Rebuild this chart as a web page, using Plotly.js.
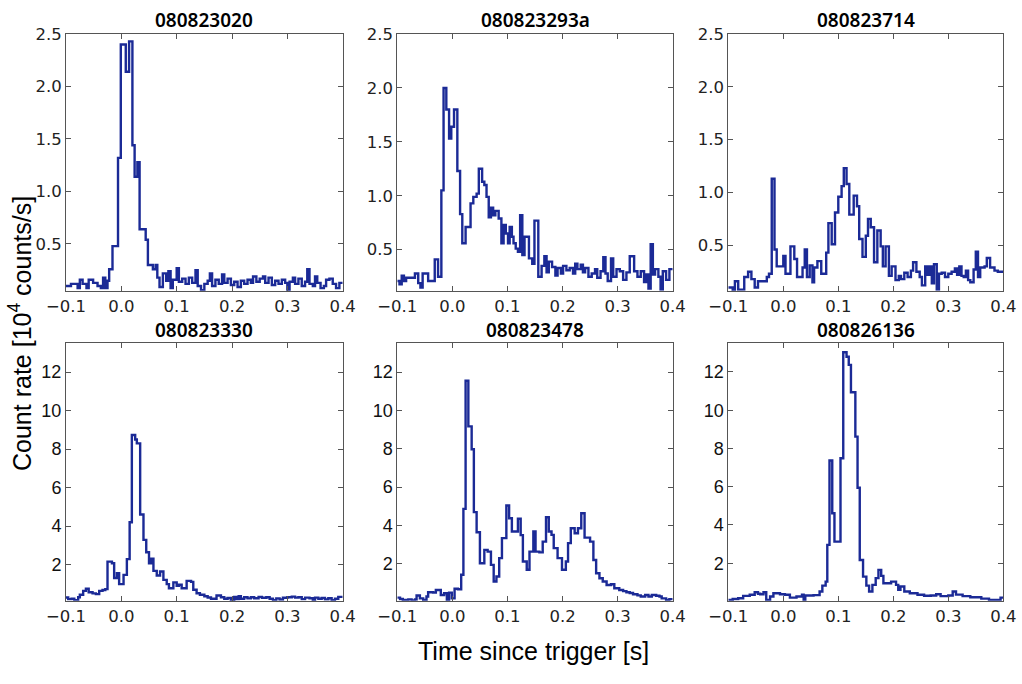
<!DOCTYPE html>
<html>
<head>
<meta charset="utf-8">
<script src="https://cdn.plot.ly/plotly-3.0.1.min.js"></script>
<style>html,body{margin:0;padding:0;background:#fff}#chart{width:1022px;height:684px}</style>
</head>
<body>
<div id="chart"></div>
<script>
// Burst names (panel titles)
const titles = ["080823020","080823293a","080823714","080823330","080823478","080826136"];

// Step start times [s] and count rates [10^4 counts/s]
const t1 = [-0.100,-0.091,-0.079,-0.075,-0.070,-0.063,-0.059,-0.051,-0.043,-0.037,-0.033,-0.029,-0.025,-0.022,-0.016,-0.006,-0.001,0.008,0.014,0.020,0.024,0.029,0.033,0.044,0.048,0.057,0.062,0.065,0.069,0.075,0.081,0.085,0.089,0.093,0.097,0.100,0.104,0.110,0.116,0.122,0.128,0.134,0.138,0.144,0.150,0.156,0.160,0.164,0.170,0.176,0.182,0.186,0.192,0.198,0.204,0.210,0.216,0.222,0.228,0.234,0.238,0.244,0.250,0.256,0.260,0.266,0.272,0.278,0.284,0.290,0.296,0.300,0.304,0.310,0.314,0.320,0.326,0.332,0.336,0.340,0.346,0.350,0.354,0.360,0.366,0.370,0.376,0.382,0.388,0.394,0.400];
const v1 = [0.10,0.12,0.08,0.16,0.12,0.08,0.16,0.13,0.10,0.08,0.18,0.08,0.15,0.26,0.48,1.32,2.40,2.14,2.43,1.44,1.14,1.28,0.64,0.54,0.30,0.26,0.30,0.18,0.09,0.22,0.15,0.24,0.08,0.16,0.16,0.27,0.14,0.17,0.12,0.18,0.13,0.25,0.10,0.06,0.12,0.15,0.22,0.10,0.16,0.12,0.21,0.13,0.17,0.11,0.14,0.09,0.15,0.12,0.16,0.13,0.19,0.14,0.17,0.19,0.13,0.18,0.11,0.15,0.12,0.16,0.13,0.06,0.14,0.18,0.12,0.17,0.10,0.14,0.26,0.12,0.10,0.19,0.13,0.08,0.10,0.16,0.17,0.12,0.08,0.13,0.13];

const t2 = [-0.100,-0.096,-0.092,-0.088,-0.084,-0.076,-0.068,-0.062,-0.058,-0.054,-0.044,-0.036,-0.032,-0.026,-0.020,-0.016,-0.011,-0.006,-0.002,0.003,0.009,0.014,0.018,0.024,0.033,0.038,0.044,0.048,0.054,0.058,0.062,0.066,0.070,0.074,0.078,0.084,0.089,0.093,0.097,0.101,0.104,0.108,0.111,0.115,0.119,0.123,0.127,0.131,0.139,0.145,0.149,0.156,0.162,0.167,0.171,0.175,0.181,0.187,0.191,0.197,0.201,0.207,0.213,0.219,0.223,0.227,0.233,0.237,0.241,0.247,0.253,0.259,0.263,0.269,0.274,0.278,0.282,0.288,0.292,0.298,0.304,0.310,0.316,0.322,0.330,0.336,0.342,0.348,0.352,0.356,0.360,0.364,0.368,0.374,0.378,0.382,0.388,0.394,0.400];
const v2 = [0.21,0.18,0.26,0.21,0.24,0.24,0.28,0.19,0.15,0.28,0.21,0.21,0.41,0.25,1.05,2.00,1.80,1.53,1.64,1.80,1.23,0.83,0.56,0.71,0.93,0.99,1.02,1.25,1.13,1.10,0.99,0.80,0.89,0.82,0.86,0.79,0.56,0.73,0.65,0.56,0.71,0.62,0.56,0.51,0.48,0.82,0.45,0.62,0.42,0.37,0.77,0.25,0.35,0.44,0.29,0.39,0.34,0.26,0.33,0.28,0.35,0.31,0.33,0.28,0.37,0.32,0.36,0.29,0.33,0.25,0.28,0.32,0.24,0.30,0.43,0.28,0.21,0.42,0.25,0.32,0.30,0.22,0.29,0.44,0.30,0.25,0.30,0.20,0.27,0.14,0.55,0.27,0.32,0.25,0.13,0.30,0.22,0.32,0.32];

const t3 = [-0.100,-0.092,-0.088,-0.082,-0.071,-0.064,-0.058,-0.052,-0.046,-0.034,-0.030,-0.026,-0.021,-0.016,-0.012,0.000,0.004,0.013,0.020,0.025,0.035,0.039,0.043,0.048,0.053,0.056,0.062,0.069,0.078,0.082,0.088,0.094,0.100,0.106,0.110,0.115,0.120,0.128,0.134,0.138,0.144,0.150,0.154,0.159,0.165,0.171,0.177,0.181,0.186,0.192,0.197,0.204,0.210,0.214,0.220,0.226,0.232,0.236,0.242,0.248,0.252,0.258,0.262,0.266,0.270,0.274,0.279,0.283,0.288,0.294,0.300,0.306,0.312,0.316,0.320,0.324,0.328,0.332,0.336,0.340,0.346,0.350,0.354,0.358,0.366,0.370,0.376,0.384,0.390,0.400];
const v3 = [0.10,0.07,0.16,0.08,0.20,0.25,0.18,0.10,0.16,0.16,0.20,0.23,1.13,0.46,0.30,0.40,0.23,0.49,0.37,0.20,0.29,0.46,0.20,0.31,0.15,0.29,0.35,0.23,0.43,0.71,0.51,0.81,0.96,1.06,1.23,1.08,0.79,0.97,0.87,0.56,0.39,0.59,0.75,0.67,0.34,0.64,0.49,0.30,0.49,0.21,0.30,0.17,0.21,0.18,0.24,0.20,0.26,0.34,0.25,0.20,0.12,0.30,0.22,0.30,0.14,0.32,0.08,0.23,0.24,0.20,0.23,0.25,0.28,0.22,0.30,0.21,0.20,0.26,0.17,0.15,0.27,0.44,0.20,0.29,0.30,0.38,0.29,0.26,0.25,0.25];

const t4 = [-0.100,-0.096,-0.090,-0.085,-0.078,-0.075,-0.069,-0.064,-0.059,-0.052,-0.046,-0.040,-0.034,-0.029,-0.025,-0.017,-0.013,-0.008,-0.004,0.004,0.010,0.015,0.019,0.025,0.028,0.034,0.040,0.045,0.050,0.054,0.058,0.064,0.070,0.076,0.082,0.086,0.094,0.100,0.104,0.109,0.118,0.126,0.130,0.136,0.142,0.150,0.156,0.162,0.172,0.180,0.186,0.192,0.198,0.204,0.208,0.212,0.216,0.222,0.228,0.234,0.240,0.248,0.254,0.262,0.268,0.274,0.280,0.286,0.292,0.300,0.308,0.314,0.320,0.326,0.332,0.340,0.346,0.350,0.356,0.362,0.368,0.374,0.380,0.386,0.392,0.400];
const v4 = [0.29,0.20,0.22,0.15,0.30,0.43,0.63,0.74,0.56,0.50,0.46,0.63,0.68,0.72,2.15,2.07,1.30,1.55,0.98,1.46,2.28,4.20,8.73,8.50,8.30,4.60,3.28,2.64,2.07,2.30,1.67,1.43,1.64,1.20,0.98,0.77,1.07,0.90,0.95,0.77,1.15,1.10,0.69,0.51,0.43,0.35,0.29,0.22,0.39,0.30,0.22,0.26,0.17,0.32,0.20,0.35,0.22,0.30,0.24,0.30,0.25,0.32,0.27,0.30,0.22,0.15,0.24,0.18,0.27,0.30,0.33,0.28,0.30,0.20,0.28,0.25,0.13,0.28,0.22,0.26,0.19,0.25,0.15,0.22,0.32,0.32];

const t5 = [-0.100,-0.095,-0.090,-0.080,-0.074,-0.068,-0.065,-0.059,-0.053,-0.047,-0.044,-0.035,-0.030,-0.021,-0.015,-0.010,-0.006,-0.001,0.004,0.010,0.016,0.020,0.024,0.029,0.035,0.039,0.044,0.050,0.058,0.064,0.070,0.075,0.080,0.085,0.090,0.098,0.103,0.108,0.119,0.124,0.128,0.135,0.140,0.147,0.151,0.158,0.164,0.170,0.175,0.180,0.184,0.191,0.199,0.206,0.210,0.215,0.222,0.228,0.234,0.240,0.250,0.256,0.261,0.267,0.273,0.280,0.288,0.294,0.303,0.310,0.316,0.322,0.328,0.336,0.342,0.350,0.356,0.362,0.370,0.376,0.380,0.388,0.394,0.400];
const v5 = [0.24,0.17,0.12,0.15,0.09,0.14,0.35,0.20,0.12,0.30,0.52,0.50,0.64,0.38,0.47,0.12,0.50,0.20,0.70,0.68,1.43,4.87,11.55,9.17,7.98,4.70,3.65,2.03,2.73,2.64,1.95,1.08,1.34,2.30,3.34,5.04,4.38,3.69,4.35,3.50,2.12,1.69,2.64,3.69,2.64,2.60,3.16,4.43,3.69,3.51,2.82,2.30,1.69,2.12,3.08,3.86,3.60,3.86,4.64,3.37,3.16,2.20,1.51,1.25,1.08,0.90,0.94,0.73,0.64,0.58,0.52,0.48,0.42,0.36,0.30,0.38,0.30,0.38,0.34,0.30,0.20,0.12,0.16,0.16];

const t6 = [-0.100,-0.092,-0.082,-0.073,-0.061,-0.052,-0.046,-0.042,-0.036,-0.031,-0.024,-0.018,-0.006,0.003,0.012,0.024,0.034,0.037,0.040,0.055,0.066,0.071,0.077,0.080,0.084,0.089,0.093,0.104,0.109,0.115,0.119,0.123,0.131,0.135,0.139,0.145,0.151,0.156,0.162,0.168,0.173,0.178,0.182,0.196,0.205,0.209,0.213,0.220,0.230,0.244,0.256,0.268,0.278,0.286,0.300,0.308,0.314,0.326,0.340,0.360,0.374,0.390,0.395,0.400];
const v6 = [0.08,0.13,0.17,0.29,0.35,0.48,0.40,0.38,0.48,0.08,0.26,0.43,0.38,0.35,0.20,0.26,0.35,0.05,0.31,0.33,0.52,0.83,1.04,2.96,7.37,4.61,3.13,7.49,13.03,12.80,12.37,10.94,8.62,5.95,2.17,1.30,0.83,0.52,0.87,1.22,1.65,1.34,0.95,1.04,0.87,0.61,0.78,0.52,0.43,0.35,0.30,0.31,0.38,0.28,0.31,0.52,0.36,0.28,0.22,0.15,0.08,0.08,0.20,0.20];

// Axis ticks
const xTickVals = [-0.1,0.0,0.1,0.2,0.3,0.4];
const xTickText = ["\u22120.1","0.0","0.1","0.2","0.3","0.4"];
const yTopTickVals = [0.5,1.0,1.5,2.0,2.5];
const yTopTickText = ["0.5","1.0","1.5","2.0","2.5"];
const yBotTickVals = [2,4,6,8,10,12];
const yBotTickText = ["2","4","6","8","10","12"];
const yRanges = [[0.055,2.5],[0.12,2.5],[0.07,2.5],[0.12,13.5],[0.08,13.5],[0.04,13.5]];

const W = 1022, H = 684;
const colsPx = [[66,342.7],[397.3,672.7],[728.3,1003.3]];
const rowsPx = [[34,290.7],[343.3,600.7]];
const lineColor = "#1b2a96";
const frameColor = "#555555";

const T = [t1,t2,t3,t4,t5,t6];
const V = [v1,v2,v3,v4,v5,v6];

const data = [];
const layout = {
  width: W, height: H,
  margin: {l:0,r:0,t:0,b:0},
  paper_bgcolor: "#fff", plot_bgcolor: "#fff",
  showlegend: false,
  annotations: []
};

for (let k = 0; k < 6; k++) {
  const r = Math.floor(k/3), c = k % 3;
  const xn = k === 0 ? "x" : "x" + (k+1);
  const yn = k === 0 ? "y" : "y" + (k+1);
  const xa = k === 0 ? "xaxis" : "xaxis" + (k+1);
  const ya = k === 0 ? "yaxis" : "yaxis" + (k+1);
  data.push({
    x: T[k], y: V[k], xaxis: xn, yaxis: yn,
    type: "scatter", mode: "lines",
    line: {shape: "hv", color: lineColor, width: 2.4},
    hoverinfo: "skip"
  });
  layout[xa] = {
    domain: [colsPx[c][0]/W, colsPx[c][1]/W],
    anchor: yn, range: [-0.1, 0.4],
    showgrid: false, zeroline: false,
    showline: true, linecolor: frameColor, linewidth: 1, mirror: "ticks",
    ticks: "inside", ticklen: 5, tickcolor: frameColor, tickwidth: 1,
    tickmode: "array", tickvals: xTickVals, ticktext: xTickText,
    tickfont: {family: "DejaVu Sans", size: 16.5, color: "#222"}
  };
  layout[ya] = {
    domain: [1 - rowsPx[r][1]/H, 1 - rowsPx[r][0]/H],
    anchor: xn, range: yRanges[k],
    showgrid: false, zeroline: false,
    showline: true, linecolor: frameColor, linewidth: 1, mirror: "ticks",
    ticks: "inside", ticklen: 5, tickcolor: frameColor, tickwidth: 1,
    tickmode: "array",
    tickvals: r === 0 ? yTopTickVals : yBotTickVals,
    ticktext: r === 0 ? yTopTickText : yBotTickText,
    tickfont: r === 0 ? {family: "DejaVu Sans", size: 16.5, color: "#222"}
                      : {family: "Liberation Sans", size: 18, color: "#111"}
  };
  layout.annotations.push({
    text: titles[k], xref: "paper", yref: "paper",
    x: (colsPx[c][0] + colsPx[c][1]) / 2 / W,
    y: 1 - (r === 0 ? 20.5 : 330) / H,
    xanchor: "center", yanchor: "middle", showarrow: false,
    font: {family: "Noto Sans", size: 19, color: "#000", weight: 600}
  });
}

layout.annotations.push({
  text: "Count rate [10<sup>4</sup> counts/s]", xref: "paper", yref: "paper",
  x: 20/W, y: 1 - 334/H, xanchor: "center", yanchor: "middle",
  textangle: -90, showarrow: false,
  font: {family: "Liberation Sans", size: 25, color: "#000"}
});
layout.annotations.push({
  text: "Time since trigger [s]", xref: "paper", yref: "paper",
  x: 533/W, y: 1 - 651/H, xanchor: "center", yanchor: "middle",
  showarrow: false,
  font: {family: "Liberation Sans", size: 25, color: "#000"}
});

Plotly.newPlot("chart", data, layout, {staticPlot: true, displayModeBar: false});
</script>
</body>
</html>
